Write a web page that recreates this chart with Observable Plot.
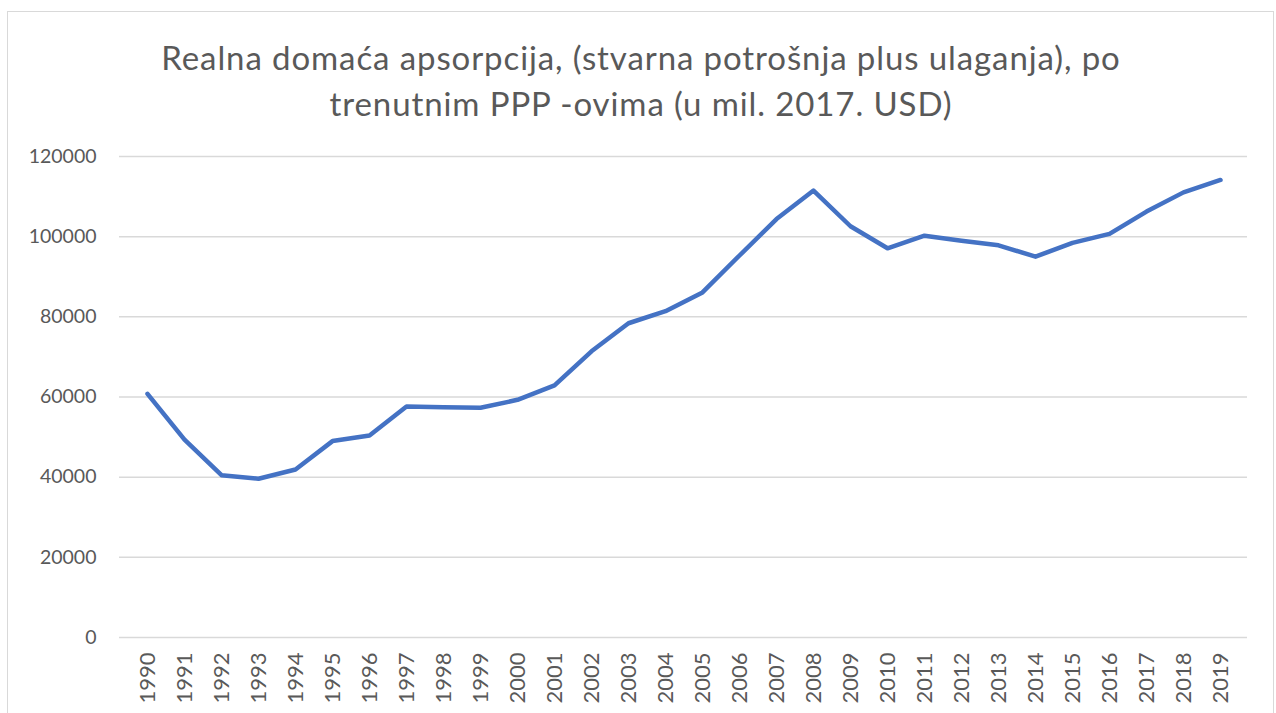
<!DOCTYPE html>
<html>
<head>
<meta charset="utf-8">
<script src="https://cdn.jsdelivr.net/npm/d3@7"></script>
<script src="https://cdn.jsdelivr.net/npm/@observablehq/plot@0.6"></script>
<style>
  html, body { margin: 0; padding: 0; background: #fff; }
  #wrap { position: relative; width: 1276px; height: 713px; overflow: hidden; font-family: Lato, "Open Sans", sans-serif; }
  #frame { position: absolute; left: 7px; top: 11px; width: 1267px; height: 720px; border: 1px solid #d9d9d9; box-sizing: border-box; }
  #title { position: absolute; left: 0; top: 34px; width: 1282px; text-align: center; color: #595959; font-size: 33px; letter-spacing: 0.9px; line-height: 46px; }
  #chart { position: absolute; left: 0; top: 0; }
</style>
</head>
<body>
<div id="wrap">
  <div id="frame"></div>
  <div id="chart"></div>
  <div id="title">Realna domaća apsorpcija, (stvarna potrošnja plus ulaganja), po<br>trenutnim PPP -ovima (u mil. 2017. USD)</div>
</div>
<script>
const years = ["1990","1991","1992","1993","1994","1995","1996","1997","1998","1999",
  "2000","2001","2002","2003","2004","2005","2006","2007","2008","2009",
  "2010","2011","2012","2013","2014","2015","2016","2017","2018","2019"];
const values = [60800, 49350, 40500, 39600, 41900, 49000, 50400, 57650, 57450, 57300,
  59300, 62900, 71400, 78400, 81400, 86100, 95300, 104400, 111500, 102600,
  97100, 100250, 99000, 97850, 95000, 98450, 100700, 106250, 111050, 114150];
const yTicks = [0, 20000, 40000, 60000, 80000, 100000, 120000];

const data = years.map((y, i) => ({year: y, value: values[i]}));

const chart = Plot.plot({
  width: 1276,
  height: 713,
  marginLeft: 119,
  marginRight: 29,
  marginTop: 156,
  marginBottom: 76,
  style: {background: "transparent", fontFamily: "Lato, 'Open Sans', sans-serif", color: "#595959"},
  x: {type: "point", domain: years, padding: 0.5},
  y: {domain: [0, 120000]},
  marks: [
    Plot.ruleY(yTicks, {stroke: "#d9d9d9", strokeWidth: 1.5}),
    Plot.axisY({ticks: yTicks, tickFormat: d => String(d), tickSize: 0, tickPadding: 23, fontSize: 19.5, label: null, fill: "#595959"}),
    Plot.axisX({tickRotate: -90, tickSize: 0, tickPadding: 15, fontSize: 22, label: null, fill: "#595959"}),
    Plot.line(data, {x: "year", y: "value", stroke: "#4472C4", strokeWidth: 4.5, strokeLinejoin: "round", strokeLinecap: "round"})
  ]
});
document.getElementById("chart").appendChild(chart);
</script>
</body>
</html>
